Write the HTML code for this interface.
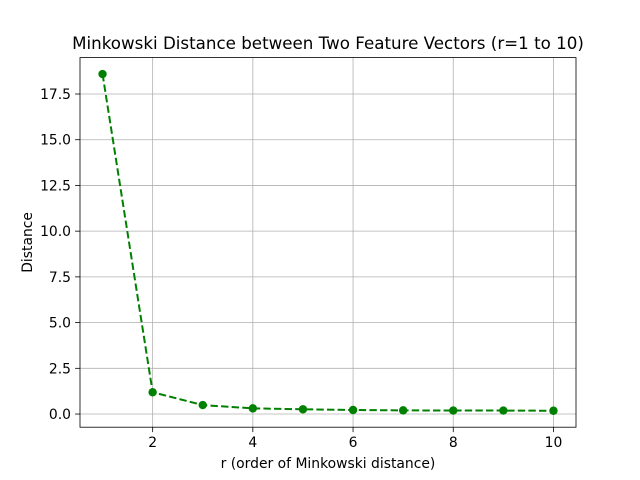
<!DOCTYPE html>
<html><head><meta charset="utf-8"><style>body{margin:0;background:#fff}svg{display:block;font-family:"DejaVu Sans","Liberation Sans",sans-serif}</style></head>
<body>
<svg id="chart" width="640" height="480"></svg>
<script>
const rValues=[1,2,3,4,5,6,7,8,9,10];
const distances=[18.59,1.19,0.49,0.31,0.26,0.22,0.20,0.19,0.19,0.18];
const xTicks=[2,4,6,8,10];
const yTicks=[0,2.5,5,7.5,10,12.5,15,17.5];
const yTickLabels=["0.0","2.5","5.0","7.5","10.0","12.5","15.0","17.5"];
const L=80,R=576,T=57.6,B=427.2;
const xmin=0.55,xmax=10.45,ymin=-0.72,ymax=19.49;
const sx=v=>L+(v-xmin)/(xmax-xmin)*(R-L);
const sy=v=>B-(v-ymin)/(ymax-ymin)*(B-T);
const svg=document.getElementById('chart');
const NS='http://www.w3.org/2000/svg';
function mk(tag,attrs,parent){const e=document.createElementNS(NS,tag);for(const k in attrs)e.setAttribute(k,attrs[k]);(parent||svg).appendChild(e);return e;}
xTicks.forEach(t=>{const x=sx(t);
const g=mk('line',{x1:x,x2:x,y1:T,y2:B,stroke:'#b0b0b0','stroke-width':0.8});


mk('line',{x1:x,x2:x,y1:B,y2:B+4.9,stroke:'#000','stroke-width':0.8});
const tx=mk('text',{x:x,y:B+20,'text-anchor':'middle','font-size':13.9});tx.textContent=t;

});
yTicks.forEach((t,i)=>{const y=sy(t);
const g=mk('line',{x1:L,x2:R,y1:y,y2:y,stroke:'#b0b0b0','stroke-width':0.8});


mk('line',{x1:L-4.9,x2:L,y1:y,y2:y,stroke:'#000','stroke-width':0.8});
const tx=mk('text',{x:L-9,y:y+5,'text-anchor':'end','font-size':13.9});tx.textContent=yTickLabels[i];

});
const pts=rValues.map((r,i)=>sx(r)+','+sy(distances[i])).join(' ');
const line=mk('polyline',{points:pts,fill:'none',stroke:'#008000','stroke-width':2,'stroke-dasharray':'7.4,3.2'});


rValues.forEach((r,i)=>{const c=mk('circle',{cx:sx(r),cy:sy(distances[i]),r:4.2,fill:'#008000'});

});
const frame=mk('rect',{x:L,y:T,width:R-L,height:B-T,fill:'none',stroke:'#000','stroke-width':0.8});


const ti=mk('text',{x:(L+R)/2,y:49,'text-anchor':'middle','font-size':16.7});ti.textContent='Minkowski Distance between Two Feature Vectors (r=1 to 10)';


const xl=mk('text',{x:(L+R)/2,y:468,'text-anchor':'middle','font-size':13.9});xl.textContent='r (order of Minkowski distance)';


const yl=mk('text',{x:32,y:(T+B)/2,'text-anchor':'middle','font-size':13.9,transform:`rotate(-90 32 ${(T+B)/2})`});yl.textContent='Distance';


</script>
</body></html>
